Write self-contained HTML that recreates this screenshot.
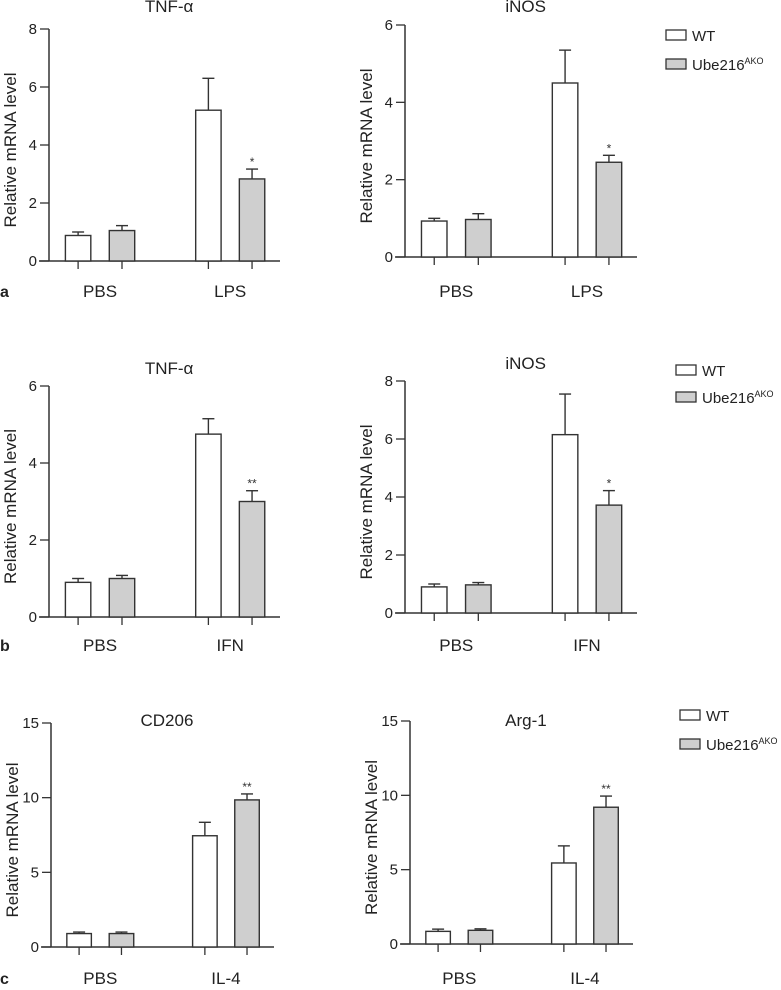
<!DOCTYPE html>
<html><head><meta charset="utf-8"><style>
html,body{margin:0;padding:0;background:#fff;}
svg{display:block;font-family:"Liberation Sans",sans-serif;}
</style></head><body>
<svg id="fig" width="781" height="990" viewBox="0 0 781 990" xmlns="http://www.w3.org/2000/svg"></svg>
<script>
// ---- data ----
const categoriesA = ["PBS","LPS"];
const categoriesB = ["PBS","IFN"];
const categoriesC = ["PBS","IL-4"];
const seriesNames = ["WT","Ube216"];
// panel a
const aTnfWT = [0.88, 5.2];   const aTnfWTerr = [1.0, 6.3];
const aTnfKO = [1.05, 2.83];  const aTnfKOerr = [1.22, 3.17];
const aTnfSig = ["", "*"];
const aTnfTicks = [0,2,4,6,8];
const aInosWT = [0.93, 4.5];  const aInosWTerr = [1.0, 5.35];
const aInosKO = [0.97, 2.45]; const aInosKOerr = [1.12, 2.63];
const aInosSig = ["", "*"];
const aInosTicks = [0,2,4,6];
// panel b
const bTnfWT = [0.9, 4.75];   const bTnfWTerr = [1.0, 5.15];
const bTnfKO = [1.0, 3.0];    const bTnfKOerr = [1.08, 3.28];
const bTnfSig = ["", "**"];
const bTnfTicks = [0,2,4,6];
const bInosWT = [0.9, 6.15];  const bInosWTerr = [1.0, 7.55];
const bInosKO = [0.97, 3.72]; const bInosKOerr = [1.05, 4.22];
const bInosSig = ["", "*"];
const bInosTicks = [0,2,4,6,8];
// panel c
const cCdWT = [0.9, 7.45];    const cCdWTerr = [1.0, 8.35];
const cCdKO = [0.9, 9.85];    const cCdKOerr = [1.0, 10.25];
const cCdSig = ["", "**"];
const cCdTicks = [0,5,10,15];
const cArgWT = [0.85, 5.45];  const cArgWTerr = [1.0, 6.6];
const cArgKO = [0.92, 9.2];   const cArgKOerr = [1.02, 9.95];
const cArgSig = ["", "**"];
const cArgTicks = [0,5,10,15];

const NS = "http://www.w3.org/2000/svg";
const svg = document.getElementById("fig");
function mk(tag, attrs, parent, txt){
  const e = document.createElementNS(NS, tag);
  for (const k in attrs) e.setAttribute(k, attrs[k]);
  if (txt !== undefined) e.textContent = txt;
  (parent||svg).appendChild(e);
  return e;
}

function panel(id, title, ox, y0, ytop, xend, ticks, cats, wt, wtErr, ko, koErr, sig, labY, titleY){
  const g = mk("g", {}, svg);
  
  
  const maxV = ticks[ticks.length-1];
  const yS = v => y0 - (v/maxV)*(y0-ytop);
  const L = xend - ox;
  const xS = (gi, si) => ox + L*([[0.126,0.316],[0.69,0.879]][gi][si]);
  const bw = L*0.11;
  const t = mk("text", {x: ox + L*0.52, y: titleY, "text-anchor":"middle", "font-size":17, fill:"#222"}, g, title);
  
  
  const yl = mk("text", {x:0, y:0, transform:`translate(${ox-33},${(y0+ytop)/2+5}) rotate(-90)`, "text-anchor":"middle", "font-size":17, fill:"#222"}, g, "Relative mRNA level");
  
  
  const ya = mk("line", {x1:ox, y1:ytop, x2:ox, y2:y0, stroke:"#333", "stroke-width":1.5}, g);
  
  
  const xa = mk("line", {x1:ox-10, y1:y0, x2:xend, y2:y0, stroke:"#333", "stroke-width":1.5}, g);
  
  
  ticks.forEach(v => {
    const y = yS(v);
    mk("line", {x1:ox-9, y1:y, x2:ox, y2:y, stroke:"#333", "stroke-width":1.3}, g);
    const tl = mk("text", {x:ox-12, y:y+5, "text-anchor":"end", "font-size":15, fill:"#222"}, g, String(v));
    
    
  });
  const vals = [wt, ko], errs = [wtErr, koErr], fills = ["#fff", "#cfcfcf"];
  cats.forEach((c, gi) => {
    for (let si = 0; si < 2; si++){
      const cx = xS(gi, si);
      const v = vals[si][gi], e = errs[si][gi];
      mk("line", {x1:cx, y1:yS(e), x2:cx, y2:yS(v), stroke:"#333", "stroke-width":1.4}, g);
      mk("line", {x1:cx-6, y1:yS(e), x2:cx+6, y2:yS(e), stroke:"#333", "stroke-width":1.4}, g);
      const r = mk("rect", {x:cx-bw/2, y:yS(v), width:bw, height:y0-yS(v), fill:fills[si], stroke:"#333", "stroke-width":1.4}, g);
      
      
      mk("line", {x1:cx, y1:y0, x2:cx, y2:y0+8, stroke:"#333", "stroke-width":1.3}, g);
      if (si === 1 && sig[gi]){
        const s = mk("text", {x:cx, y:yS(e)-3, "text-anchor":"middle", "font-size":12, fill:"#333"}, g, sig[gi]);
        
        
      }
    }
    const cl = mk("text", {x:(xS(gi,0)+xS(gi,1))/2, y:labY, "text-anchor":"middle", "font-size":17, fill:"#222"}, g, c);
    
    
  });
}

function legend(id, x, y1, y2){
  const g = mk("g", {}, svg);
  
  
  mk("rect", {x:x, y:y1, width:20, height:10, fill:"#fff", stroke:"#333", "stroke-width":1.3}, g);
  const t1 = mk("text", {x:x+26, y:y1+11, "font-size":15, fill:"#222"}, g, "WT");
  
  
  mk("rect", {x:x, y:y2, width:20, height:10, fill:"#cfcfcf", stroke:"#333", "stroke-width":1.3}, g);
  const t2 = mk("text", {x:x+26, y:y2+11, "font-size":15, fill:"#222"}, g);
  
  
  mk("tspan", {}, t2, "Ube216");
  mk("tspan", {"font-size":9, dy:-6}, t2, "AKO");
}

function letter(ch, y){
  const t = mk("text", {x:0, y:y, "font-size":16, "font-weight":"bold", fill:"#222"}, svg, ch);
  
  
}

panel("a-tnf", "TNF-α", 49, 261, 29, 280, aTnfTicks, categoriesA, aTnfWT, aTnfWTerr, aTnfKO, aTnfKOerr, aTnfSig, 297, 12);
panel("a-inos", "iNOS", 405, 257, 25, 637, aInosTicks, categoriesA, aInosWT, aInosWTerr, aInosKO, aInosKOerr, aInosSig, 297, 12);
legend("legend-a", 666, 30, 59);
letter("a", 297);

panel("b-tnf", "TNF-α", 49, 617, 386, 280, bTnfTicks, categoriesB, bTnfWT, bTnfWTerr, bTnfKO, bTnfKOerr, bTnfSig, 651, 374);
panel("b-inos", "iNOS", 405, 613, 381, 637, bInosTicks, categoriesB, bInosWT, bInosWTerr, bInosKO, bInosKOerr, bInosSig, 651, 369);
legend("legend-b", 676, 365, 392);
letter("b", 651);

panel("c-cd206", "CD206", 51, 947, 723, 274, cCdTicks, categoriesC, cCdWT, cCdWTerr, cCdKO, cCdKOerr, cCdSig, 984, 726);
panel("c-arg1", "Arg-1", 410, 944, 721, 633, cArgTicks, categoriesC, cArgWT, cArgWTerr, cArgKO, cArgKOerr, cArgSig, 984, 726);
legend("legend-c", 680, 710, 739);
letter("c", 984);
</script>
</body></html>
